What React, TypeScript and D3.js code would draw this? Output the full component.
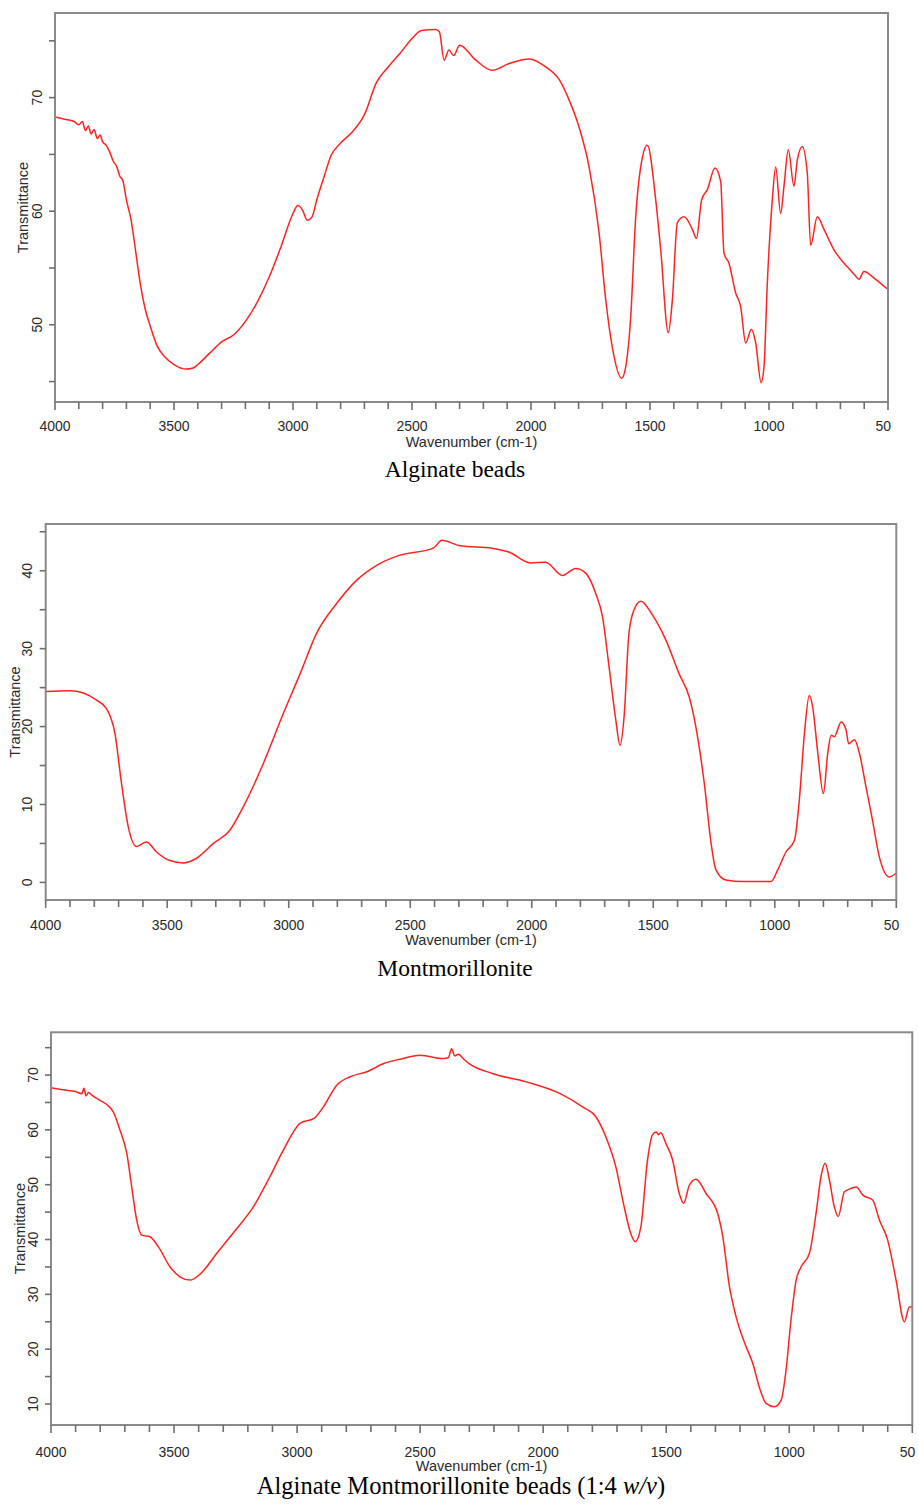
import React from "react";
import * as d3 from "d3";

// ---- data: [wavenumber (cm-1), transmittance] ----
const alginateSpectrum: [number, number][] = [
  [4000, 68.3], [3960, 68.1], [3920, 67.9], [3900, 67.6], [3885, 67.9], [3872, 67.1], [3860, 67.5],
  [3848, 66.8], [3836, 67.2], [3822, 66.4], [3810, 66.7], [3800, 66.1], [3785, 65.8], [3770, 65.2],
  [3755, 64.4], [3740, 63.9], [3728, 63.1], [3715, 62.7], [3700, 61.0], [3680, 59.2], [3660, 56.3],
  [3640, 53.4], [3620, 51.3], [3600, 49.9], [3570, 48.1], [3540, 47.2], [3500, 46.5], [3450, 46.1],
  [3420, 46.2], [3400, 46.5], [3350, 47.5], [3300, 48.5], [3250, 49.1], [3200, 50.3], [3150, 52.0],
  [3100, 54.2], [3050, 56.9], [3000, 59.8], [2980, 60.5], [2960, 60.1], [2940, 59.2], [2920, 59.5],
  [2900, 61.0], [2870, 63.0], [2840, 64.9], [2800, 66.0], [2750, 67.0], [2700, 68.5], [2650, 71.3],
  [2600, 72.7], [2550, 73.9], [2500, 75.2], [2460, 75.9], [2400, 76.0], [2385, 75.8], [2365, 73.3],
  [2345, 74.2], [2325, 73.7], [2300, 74.6], [2232, 73.3], [2163, 72.4], [2092, 73.0], [2008, 73.4],
  [1938, 72.7], [1882, 71.6], [1840, 69.8], [1798, 67.4], [1756, 63.9], [1714, 58.1], [1686, 52.2],
  [1659, 48.1], [1619, 45.3], [1602, 46.3], [1581, 50.7], [1560, 59.5], [1539, 63.9], [1511, 65.8],
  [1476, 61.0], [1455, 56.6], [1423, 49.3], [1406, 52.2], [1385, 59.0], [1357, 59.5], [1322, 58.4],
  [1305, 57.6], [1283, 61.0], [1259, 61.9], [1227, 63.8], [1203, 62.6], [1189, 56.3], [1168, 55.4],
  [1140, 52.8], [1119, 51.6], [1098, 48.4], [1074, 49.6], [1056, 48.4], [1033, 44.9], [1021, 46.3],
  [1007, 53.7], [986, 61.0], [972, 63.9], [951, 59.8], [937, 62.2], [919, 65.4], [895, 62.2],
  [881, 64.5], [860, 65.7], [839, 63.3], [825, 57.0], [797, 59.5], [769, 58.4], [727, 56.6],
  [671, 55.1], [640, 54.4], [622, 54.0], [601, 54.7], [552, 54.0], [500, 53.1],
];

const montmorilloniteSpectrum: [number, number][] = [
  [4000, 24.5], [3900, 24.6], [3845, 24.3], [3791, 23.4], [3750, 22.3], [3715, 19.1], [3688, 12.7],
  [3660, 7.1], [3626, 4.6], [3585, 5.2], [3544, 3.9], [3489, 2.8], [3434, 2.5], [3379, 3.1],
  [3310, 5.0], [3242, 6.7], [3187, 9.7], [3104, 15.3], [3022, 21.7], [2953, 26.8], [2885, 32.0],
  [2803, 35.8], [2720, 38.8], [2638, 40.7], [2542, 42.0], [2405, 42.9], [2370, 43.9], [2295, 43.2],
  [2163, 42.9], [2094, 42.4], [2004, 41.0], [1943, 41.1], [1874, 39.4], [1819, 40.3], [1778, 39.7],
  [1737, 37.1], [1709, 34.1], [1682, 27.7], [1654, 20.8], [1637, 17.6], [1620, 21.3], [1600, 32.0],
  [1579, 35.0], [1551, 36.1], [1503, 34.3], [1448, 31.1], [1394, 26.8], [1352, 23.8], [1325, 20.0],
  [1290, 12.7], [1262, 5.0], [1242, 1.6], [1201, 0.3], [1132, 0.1], [1015, 0.1], [988, 1.6],
  [954, 3.9], [919, 5.4], [899, 10.6], [878, 19.1], [858, 24.0], [844, 22.5], [823, 16.6],
  [800, 11.4], [782, 16.6], [768, 18.9], [755, 18.7], [727, 20.6], [707, 19.6], [696, 17.8],
  [672, 18.3], [652, 16.6], [625, 12.3], [598, 8.0], [570, 3.3], [529, 0.7], [500, 1.2],
];

const compositeSpectrum: [number, number][] = [
  [4000, 67.7], [3950, 67.3], [3900, 67.0], [3875, 66.6], [3866, 67.6], [3858, 66.2], [3848, 66.8],
  [3830, 66.2], [3801, 65.4], [3770, 64.5], [3747, 63.3], [3720, 60.0], [3692, 55.7], [3672, 49.6],
  [3652, 43.6], [3631, 40.8], [3598, 40.5], [3564, 38.7], [3516, 35.0], [3476, 33.2], [3435, 32.6],
  [3394, 33.7], [3326, 37.5], [3245, 42.0], [3177, 46.0], [3110, 51.5], [3056, 56.3], [2988, 61.2],
  [2931, 62.1], [2893, 64.2], [2838, 68.2], [2784, 69.7], [2716, 70.6], [2648, 72.1], [2581, 72.9],
  [2500, 73.6], [2405, 73.0], [2385, 73.2], [2372, 74.8], [2360, 73.5], [2345, 73.8], [2320, 72.8],
  [2301, 72.1], [2207, 70.3], [2071, 68.8], [1935, 66.7], [1840, 64.2], [1786, 62.4], [1745, 58.7],
  [1705, 53.3], [1671, 46.0], [1644, 41.1], [1626, 39.6], [1603, 42.3], [1576, 54.5], [1556, 59.1],
  [1540, 59.6], [1532, 59.1], [1522, 59.5], [1501, 57.5], [1474, 54.5], [1447, 48.4], [1429, 46.6],
  [1406, 49.9], [1379, 51.0], [1338, 48.4], [1291, 44.8], [1270, 40.5], [1243, 31.4], [1216, 25.9],
  [1175, 20.4], [1148, 17.4], [1122, 13.1], [1094, 10.1], [1061, 9.5], [1033, 10.7], [1013, 16.2],
  [993, 25.3], [972, 32.6], [952, 35.0], [918, 37.5], [891, 44.8], [871, 51.5], [854, 53.9],
  [837, 50.9], [817, 46.0], [801, 44.2], [776, 48.7], [749, 49.3], [728, 49.6], [701, 48.1],
  [661, 47.2], [634, 43.6], [600, 39.9], [566, 32.6], [532, 25.0], [512, 27.7], [500, 27.7],
];

const xDomain: [number, number] = [4000, 500];
const xMajorTicks = [4000, 3500, 3000, 2500, 2000, 1500, 1000, 500];
const xTickLabels = ["4000", "3500", "3000", "2500", "2000", "1500", "1000", "50"];
const xMinorTicks = d3.range(500, 4001, 100);
const alginateYTicks = [50, 60, 70];
const alginateYMinor = [45, 55, 65, 75];
const montYTicks = [0, 10, 20, 30, 40];
const montYMinor = [5, 15, 25, 35, 45];
const compYTicks = [10, 20, 30, 40, 50, 60, 70];
const compYMinor = [15, 25, 35, 45, 55, 65, 75];

const SANS = "'Liberation Sans', Arial, Helvetica, sans-serif";
const SERIF = "'Liberation Serif', 'Times New Roman', serif";

type PanelProps = {
  data: [number, number][];
  left: number; right: number; top: number; bottom: number;
  yDomain: [number, number];
  yTicks: number[]; yMinor: number[];
  yLabelX: number; transX: number;
  xLabelY: number; waveY: number;
  titleX: number; titleY: number; titleSize: number;
  title: React.ReactNode;
};

function Panel(p: PanelProps) {
  const x = d3.scaleLinear().domain(xDomain).range([p.left, p.right]);
  const y = d3.scaleLinear().domain(p.yDomain).range([p.bottom, p.top]);
  const line = d3
    .line<[number, number]>()
    .x((d) => x(d[0]))
    .y((d) => y(d[1]))
    .curve(d3.curveMonotoneX);
  const axisColor = "#8a8a8a";
  const textColor = "#2a2a2a";
  const cx = (p.left + p.right) / 2;
  const cy = (p.top + p.bottom) / 2;
  const last = xMajorTicks.length - 1;
  return (
    <g>
      <path d={line(p.data) || ""} fill="none" stroke="#ff2323" strokeWidth={1.5} strokeLinejoin="round" />
      <rect x={p.left} y={p.top} width={p.right - p.left} height={p.bottom - p.top} fill="none" stroke={axisColor} strokeWidth={2} />
      {xMinorTicks.map((t) => (
        <line key={`xm${t}`} x1={x(t)} x2={x(t)} y1={p.bottom} y2={p.bottom + (t % 500 === 0 ? 8 : 7)} stroke="#6f6f6f" strokeWidth={1.6} />
      ))}
      {xMajorTicks.map((t, i) => (
        <text
          key={`xl${t}`}
          x={i === last ? x(t) - 12.5 : x(t)}
          y={p.xLabelY}
          textAnchor={i === last ? "start" : "middle"}
          fontFamily={SANS}
          fontSize={14}
          fill={textColor}
        >
          {xTickLabels[i]}
        </text>
      ))}
      {p.yTicks.concat(p.yMinor).map((t) => (
        <line key={`yt${t}`} x1={p.left - 6} x2={p.left} y1={y(t)} y2={y(t)} stroke="#6f6f6f" strokeWidth={1.6} />
      ))}
      {p.yTicks.map((t) => (
        <text key={`yl${t}`} transform={`translate(${p.yLabelX},${y(t)}) rotate(-90)`} textAnchor="middle" fontFamily={SANS} fontSize={14} fill={textColor}>
          {t}
        </text>
      ))}
      <text transform={`translate(${p.transX},${cy}) rotate(-90)`} textAnchor="middle" fontFamily={SANS} fontSize={14.5} fill={textColor}>
        Transmittance
      </text>
      <text x={cx} y={p.waveY} textAnchor="middle" fontFamily={SANS} fontSize={14.5} fill={textColor}>
        Wavenumber (cm-1)
      </text>
      <text x={p.titleX} y={p.titleY} textAnchor="middle" fontFamily={SERIF} fontSize={p.titleSize} fill="#000">
        {p.title}
      </text>
    </g>
  );
}

export default function App() {
  return (
    <svg width={919} height={1508} style={{ position: "absolute", left: 0, top: 0, background: "#fff" }}>
      <rect x={0} y={0} width={919} height={1508} fill="#fff" />
      <Panel
        data={alginateSpectrum}
        left={55} right={888} top={13} bottom={402}
        yDomain={[43.2, 77.45]} yTicks={alginateYTicks} yMinor={alginateYMinor}
        yLabelX={41.5} transX={28} xLabelY={431} waveY={447}
        titleX={455} titleY={476.5} titleSize={23.5} title="Alginate beads"
      />
      <Panel
        data={montmorilloniteSpectrum}
        left={45.7} right={896.3} top={524} bottom={900}
        yDomain={[-2.26, 46.0]} yTicks={montYTicks} yMinor={montYMinor}
        yLabelX={31.5} transX={20} xLabelY={930} waveY={945}
        titleX={455} titleY={976} titleSize={23.5} title="Montmorillonite"
      />
      <Panel
        data={compositeSpectrum}
        left={51} right={912.3} top={1032.3} bottom={1425}
        yDomain={[6.17, 77.8]} yTicks={compYTicks} yMinor={compYMinor}
        yLabelX={38} transX={25} xLabelY={1457} waveY={1471}
        titleX={461} titleY={1494} titleSize={24.5}
        title={<>Alginate Montmorillonite beads (1:4 <tspan fontStyle="italic">w/v</tspan>)</>}
      />
    </svg>
  );
}
